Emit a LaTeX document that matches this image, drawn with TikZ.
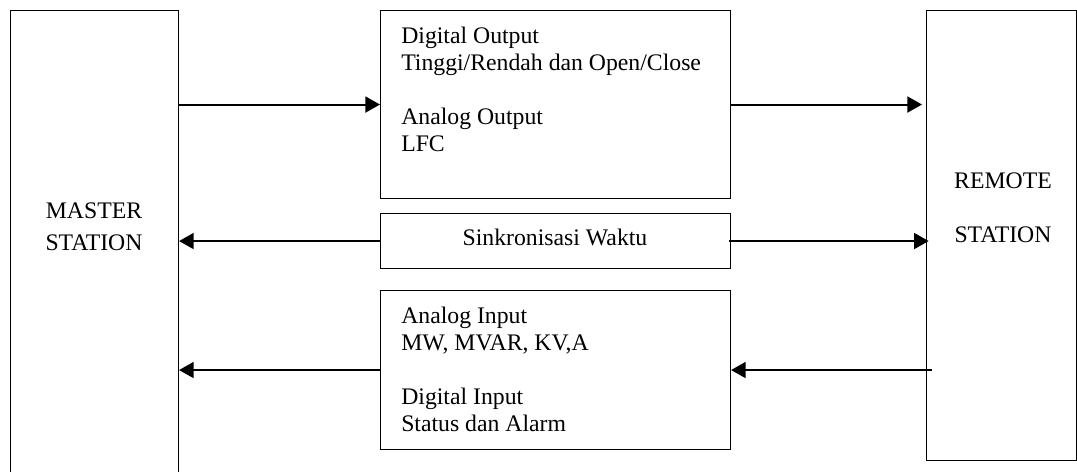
\documentclass[tikz,border=0pt]{standalone}
\usepackage{fontspec}
\setmainfont{Liberation Serif}
\usetikzlibrary{arrows.meta,positioning}

\begin{document}
\begin{tikzpicture}[x=0.75pt,y=-0.75pt,
  box/.style={draw,line width=0.8pt,inner sep=0pt,anchor=north west},
  txt/.style={font=\fontsize{17.8}{20.25}\selectfont,inner sep=0pt},
  link/.style={line width=1.5pt,-{Triangle[length=11pt,width=12pt]}}]

\useasboundingbox (0,0) rectangle (1077,471);

\node[box,minimum width=126pt,minimum height=352.5pt] (master) at (10,10) {};
\node[box,minimum width=112.5pt,minimum height=337.5pt] (remote) at (926,10) {};
\node[box,minimum width=262.5pt,minimum height=141pt] (outbox) at (380,10) {};
\node[box,minimum width=262.5pt,minimum height=41.25pt] (syncbox) at (380,213) {};
\node[box,minimum width=262.5pt,minimum height=119.25pt] (inbox) at (380,290) {};

\node[txt,align=center,anchor=north] (mastertext) at (94,203)
  {MASTER\\[3.75pt]STATION};
\node[txt,align=center,anchor=north] (remotetext) at (1003,173)
  {REMOTE\\[20.25pt]STATION};
\node[txt,align=left,anchor=north west] (outtext) at (401,27)
  {Digital Output\\Tinggi/Rendah dan Open/Close\\[20.25pt]Analog Output\\LFC};
\node[txt,anchor=base] (synctext) at (555,245) {Sinkronisasi Waktu};
\node[txt,align=left,anchor=north west] (intext) at (401,307)
  {Analog Input\\MW, MVAR, KV,A\\[20.25pt]Digital Input\\Status dan Alarm};

\draw[link] (master.east |- outbox.west) -- (outbox.west);
\draw[link,shorten >=3pt] (outbox.east) -- (remote.west |- outbox.east);
\draw[link] (syncbox.west) -- (master.east |- syncbox.west);
\draw[link,shorten >=-2pt] ([xshift=-1.5pt]syncbox.east) -- (remote.west |- syncbox.east);
\draw[link] (inbox.west) -- (master.east |- inbox.west);
\draw[link] ([xshift=4.5pt]remote.west |- inbox.east) -- (inbox.east);
\end{tikzpicture}
\end{document}
